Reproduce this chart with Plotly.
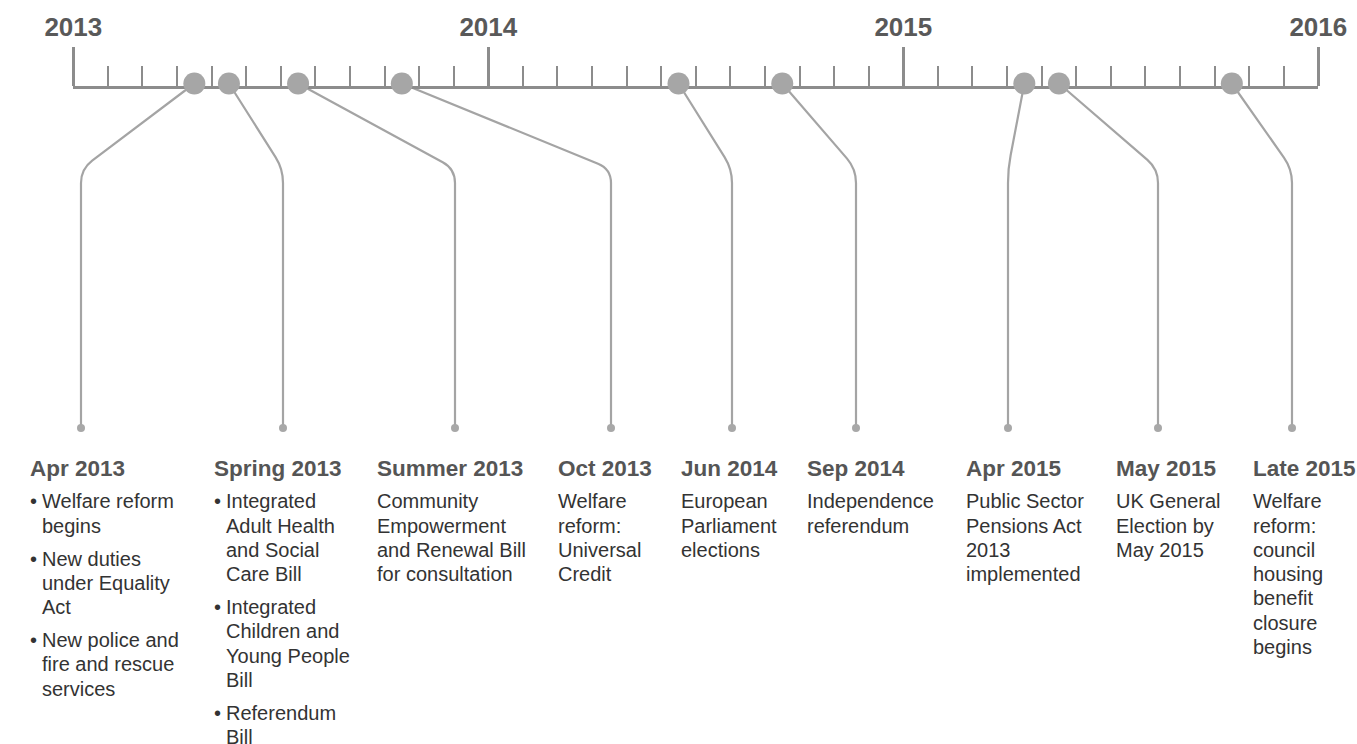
import math
import plotly.graph_objects as go

# ---------------- data ----------------
YEAR_TICK_VALUES = [0, 12, 24, 36]          # months since Jan 2013
YEAR_TICK_LABELS = ["2013", "2014", "2015", "2016"]

EVENT_LABELS = ["Apr 2013", "Spring 2013", "Summer 2013", "Oct 2013", "Jun 2014",
                "Sep 2014", "Apr 2015", "May 2015", "Late 2015"]
EVENT_DATES = ["2013-04", "2013-05", "2013-07", "2013-10", "2014-06",
               "2014-09", "2015-04", "2015-05", "2015-10"]
EVENT_BULLETED = [True, True, False, False, False, False, False, False, False]
EVENT_TEXT = [
    [["Welfare reform", "begins"], ["New duties", "under Equality", "Act"],
     ["New police and", "fire and rescue", "services"]],
    [["Integrated", "Adult Health", "and Social", "Care Bill"],
     ["Integrated", "Children and", "Young People", "Bill"], ["Referendum", "Bill"]],
    [["Community", "Empowerment", "and Renewal Bill", "for consultation"]],
    [["Welfare", "reform:", "Universal", "Credit"]],
    [["European", "Parliament", "elections"]],
    [["Independence", "referendum"]],
    [["Public Sector", "Pensions Act", "2013", "implemented"]],
    [["UK General", "Election by", "May 2015"]],
    [["Welfare", "reform:", "council", "housing", "benefit", "closure", "begins"]],
]

# ---------------- layout (pixels) ----------------
W, H = 1357, 744
X_START_PX, X_END_PX = 73.3, 1318.3
AXIS_Y = 87.0
DOT_Y = 83.5
CORNER_Y = 169.0
CORNER_R = 14.0
END_Y = 428.0
COLUMN_LEFT_PX = [29, 213, 376, 557, 680, 806, 965, 1115, 1252]
LEADER_X_PX = [81, 283, 455, 611, 732, 856, 1008, 1158, 1292]
TITLE_Y = 468.0
BODY_Y0 = 501.3
LINE_STEP = 24.3
BULLET_STEP = 33.0

FONT = "Liberation Sans, Arial, sans-serif"
LINE_COL = "#a4a4a4"
AXIS_COL = "#8c8c8c"

PPM = (X_END_PX - X_START_PX) / 36.0


def month_index(s):
    y, m = map(int, s.split("-"))
    return (y - 2013) * 12 + (m - 1) + 0.5


def px_to_month(px):
    return (px - X_START_PX) / PPM


event_m = [month_index(d) for d in EVENT_DATES]

fig = go.Figure()

# leader lines
shapes = []
for m, lx in zip(event_m, LEADER_X_PX):
    x0 = X_START_PX + m * PPM
    dx, dy = lx - x0, CORNER_Y - DOT_Y
    L = math.hypot(dx, dy)
    x1 = lx - CORNER_R * dx / L
    y1 = CORNER_Y - CORNER_R * dy / L
    path = (f"M {m},{DOT_Y} L {px_to_month(x1)},{y1} "
            f"Q {px_to_month(lx)},{CORNER_Y} {px_to_month(lx)},{CORNER_Y + CORNER_R} "
            f"L {px_to_month(lx)},{END_Y}")
    shapes.append(dict(type="path", path=path, xref="x", yref="y", layer="below",
                       line=dict(color=LINE_COL, width=2.2)))

# event dots on the timeline
fig.add_trace(go.Scatter(x=event_m, y=[DOT_Y] * len(event_m), mode="markers",
                         marker=dict(size=22, color="#a6a6a6"), hoverinfo="text",
                         text=EVENT_LABELS, cliponaxis=False, showlegend=False))
# small end dots
fig.add_trace(go.Scatter(x=[px_to_month(v) for v in LEADER_X_PX], y=[END_Y] * len(LEADER_X_PX),
                         mode="markers", marker=dict(size=8, color="#a8a8a8"),
                         hoverinfo="skip", cliponaxis=False, showlegend=False))

annotations = []
for lab, col, bul, paras in zip(EVENT_LABELS, COLUMN_LEFT_PX, EVENT_BULLETED, EVENT_TEXT):
    annotations.append(dict(x=col / W, y=1 - TITLE_Y / H, xref="paper", yref="paper",
                            xanchor="left", yanchor="middle", showarrow=False, borderpad=0,
                            text=f"<b>{lab}</b>",
                            font=dict(family=FONT, size=22.5, color="#555555")))
    y = BODY_Y0
    for pi, para in enumerate(paras):
        if pi > 0:
            y += BULLET_STEP - LINE_STEP
        for li, line in enumerate(para):
            tx = col + (12 if bul else 0)
            if bul and li == 0:
                annotations.append(dict(x=col / W, y=1 - y / H, xref="paper", yref="paper",
                                        xanchor="left", yanchor="middle", showarrow=False,
                                        borderpad=0, text="•",
                                        font=dict(family=FONT, size=20, color="#333333")))
            annotations.append(dict(x=tx / W, y=1 - y / H, xref="paper", yref="paper",
                                    xanchor="left", yanchor="middle", showarrow=False,
                                    borderpad=0, text=line,
                                    font=dict(family=FONT, size=20, color="#333333")))
            y += LINE_STEP

fig.update_layout(
    width=W, height=H,
    margin=dict(l=0, r=0, t=0, b=0, pad=0),
    paper_bgcolor="white", plot_bgcolor="white",
    showlegend=False,
    shapes=shapes,
    annotations=annotations,
    xaxis=dict(
        range=[0, 36],
        domain=[X_START_PX / W, X_END_PX / W],
        anchor="free", position=1 - AXIS_Y / H, side="top",
        showline=True, linewidth=3, linecolor=AXIS_COL,
        ticks="outside", ticklen=39.5, tickwidth=2.5, tickcolor=AXIS_COL,
        tickmode="array", tickvals=YEAR_TICK_VALUES, ticktext=YEAR_TICK_LABELS,
        tickfont=dict(family=FONT, size=26, color="#595959", weight="bold"),
        ticklabelstandoff=0,
        minor=dict(ticks="outside", dtick=1, tick0=0, ticklen=20, tickwidth=1.6,
                   tickcolor=AXIS_COL, showgrid=False),
        showgrid=False, zeroline=False, layer="below traces", automargin=False,
    ),
    yaxis=dict(range=[H, 0], domain=[0, 1], visible=False, showgrid=False,
               zeroline=False, automargin=False),
)

fig.write_html("out.html", config={"displayModeBar": False},
               post_script="document.body.style.margin='0';document.body.style.overflow='hidden';")
